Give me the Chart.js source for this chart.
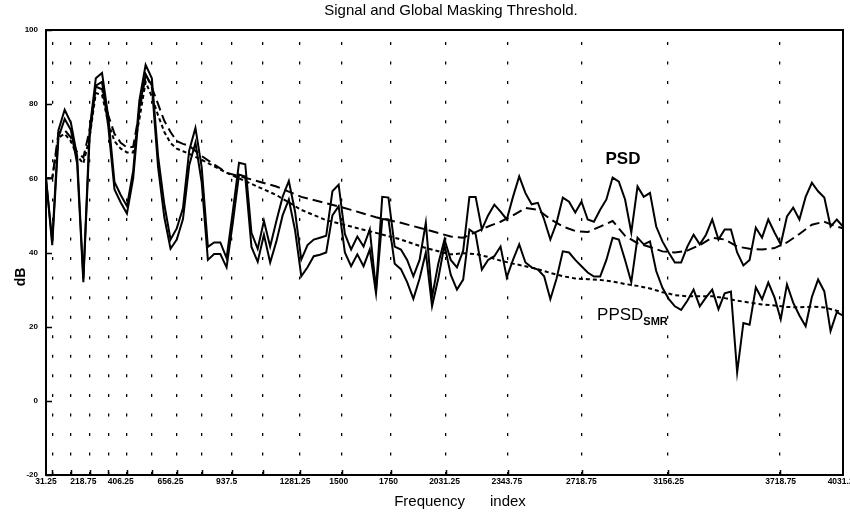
<!DOCTYPE html>
<html>
<head>
<meta charset="utf-8">
<script src="https://cdn.jsdelivr.net/npm/chart.js@4.4.0/dist/chart.umd.min.js"></script>
<style>
  body { margin: 0; background: #fff; }
  canvas { display: block; }
</style>
</head>
<body>
<canvas id="maskChart" width="850" height="518"></canvas>
<script>
// frequency of every spectral line (Hz)
const freqHz = [31.25, 62.5, 93.75, 125, 156.25, 187.5, 218.75, 250, 281.25, 312.5,
  343.75, 375, 406.25, 437.5, 468.75, 500, 531.25, 562.5, 593.75, 625,
  656.25, 687.5, 718.75, 750, 781.25, 812.5, 843.75, 875, 906.25, 937.5,
  968.75, 1000, 1031.25, 1062.5, 1093.75, 1125, 1156.25, 1187.5, 1218.75, 1250,
  1281.25, 1312.5, 1343.75, 1375, 1406.25, 1437.5, 1468.75, 1500, 1531.25, 1562.5,
  1593.75, 1625, 1656.25, 1687.5, 1718.75, 1750, 1781.25, 1812.5, 1843.75, 1875,
  1906.25, 1937.5, 1968.75, 2000, 2031.25, 2062.5, 2093.75, 2125, 2156.25, 2187.5,
  2218.75, 2250, 2281.25, 2312.5, 2343.75, 2375, 2406.25, 2437.5, 2468.75, 2500,
  2531.25, 2562.5, 2593.75, 2625, 2656.25, 2687.5, 2718.75, 2750, 2781.25, 2812.5,
  2843.75, 2875, 2906.25, 2937.5, 2968.75, 3000, 3031.25, 3062.5, 3093.75, 3125,
  3156.25, 3187.5, 3218.75, 3250, 3281.25, 3312.5, 3343.75, 3375, 3406.25, 3437.5,
  3468.75, 3500, 3531.25, 3562.5, 3593.75, 3625, 3656.25, 3687.5, 3718.75, 3750,
  3781.25, 3812.5, 3843.75, 3875, 3906.25, 3937.5, 3968.75, 4000, 4031.25];

// signal power spectral density (dB)
const psdDb = [60, 43, 73, 78.5, 75, 66, 33, 73, 87, 88.4,
  76.6, 59, 55.5, 52.5, 62, 81, 90.6, 87, 66, 53,
  43.5, 46.5, 52, 67.5, 73.6, 63, 41.5, 42.7, 42.7, 38.5,
  51, 64.2, 63.8, 45.3, 41, 48.5, 41.6, 48.5, 55, 59.3,
  51, 38.1, 42, 43.5, 44, 44.5, 56.5, 58.3, 45, 40.8,
  44.3, 41.6, 46.2, 30, 55, 54.8, 41.6, 40.8, 38, 33.6,
  38, 48, 28, 37, 43.5, 38, 36, 40.5, 55, 55,
  46.2, 50, 52.9, 51, 48.9, 55, 60.5, 56, 53, 53.4,
  48.9, 43.5, 48, 54.8, 53.7, 50.8, 53.7, 48.9, 48.3, 51.5,
  54.3, 60.2, 59.1, 54.3, 45.4, 57.8, 55, 56.1, 47, 43,
  40, 37.3, 37.3, 41.6, 44.8, 42.2, 44.8, 48.9, 43.5, 46.2,
  46.2, 40, 36.5, 38, 46.7, 44, 48.9, 45.4, 42.2, 49.7,
  52.1, 48.9, 55, 58.8, 56.5, 54.8, 47, 48.9, 47];

// PSD minus signal-to-mask ratio (dB)
const ppsdSmrDb = [60, 42, 71, 76, 73, 64, 32, 71, 85, 86,
  74, 57, 53.5, 50.5, 60, 79, 88, 85, 63, 49.5,
  41, 43.5, 49, 63.5, 69.6, 59, 38, 39.6, 39.6, 36,
  48, 61, 60.5, 41.5, 37.5, 44.8, 37.3, 43, 50, 54.3,
  46, 33.6, 36, 39, 39.4, 40, 50, 52.5, 40, 36.3,
  39.5, 36.3, 40.8, 29, 49, 48.9, 37, 35.5, 32, 27.5,
  33, 40, 25.5, 33, 42, 34, 30, 32.7, 46.2, 45,
  35.4, 38, 39, 41.6, 33.3, 38, 42.2, 37.3, 36, 35.4,
  33.6, 27.4, 33, 40.3, 40, 38, 36.3, 34.6, 33.5, 33.5,
  38, 44, 43.5, 38, 32, 44, 42.2, 43, 35, 30.5,
  27.5, 25.5, 24.5, 27, 30, 25.5, 27.9, 30, 24.7, 29,
  29.5, 7.7, 21, 20.5, 30.6, 27.4, 31.9, 27.9, 22, 31.4,
  26.5, 23, 20.1, 28, 32.7, 29.5, 18.8, 23.9, 23];

// masking thresholds, sampled on a coarser set of lines (Hz)
const thrFreqHz = [31.25, 62.5, 93.75, 125, 156.25, 187.5, 218.75, 250, 281.25, 312.5,
  343.75, 375, 406.25, 437.5, 468.75, 500, 531.25, 562.5, 593.75, 625,
  656.25, 687.5, 718.75, 750, 812.5, 937.5, 1062.5, 1187.5, 1312.5, 1437.5,
  1562.5, 1687.5, 1812.5, 1937.5, 2062.5, 2125, 2187.5, 2250, 2312.5, 2375,
  2437.5, 2500, 2562.5, 2625, 2687.5, 2750, 2812.5, 2875, 2937.5, 3000,
  3062.5, 3125, 3187.5, 3250, 3312.5, 3375, 3437.5, 3500, 3562.5, 3625,
  3687.5, 3750, 3812.5, 3875, 3937.5, 4000, 4031.25];

const globalThrDb = [60, 60, 72.3, 73, 71, 67, 65.6, 73, 84.7, 84,
  77, 72, 69.6, 68.3, 68.5, 78, 88, 84.5, 80, 75.5,
  72.5, 70, 69.3, 68.8, 66, 61.5, 59.7, 57.8, 55, 53.3,
  51.5, 49.5, 48, 46.2, 44.3, 44, 45.5, 47, 48.3, 50,
  52, 51.5, 49, 47, 45.8, 45.5, 47, 48.5, 44.5, 42.5,
  41.5, 40.3, 40, 40.5, 42, 44, 43.5, 41.6, 41, 40.8,
  41.2, 42.7, 45, 47.5, 48.3, 47, 46.5];

const smrThrDb = [60, 60, 71, 72, 70, 66, 64, 71, 83, 82.5,
  75, 70, 68, 67, 67, 76, 86, 82, 77, 72.5,
  69.5, 68, 67.3, 66.6, 65, 61.5, 58.5, 55.5, 51.5, 48.7,
  47, 45.3, 43.5, 41.2, 39.5, 39.8, 39.6, 38.8, 37.8, 37,
  36.3, 35.5, 34.5, 33.6, 33, 32.8, 32.6, 32.2, 31.5, 31,
  30.3, 29.3, 28.5, 28.2, 28.2, 28.2, 27.7, 27, 26.5, 26,
  25.7, 25.3, 25.2, 25.4, 25.2, 24.3, 24];

// axis decoration
const gridHz = [62.5, 156.25, 250, 343.75, 437.5, 562.5, 687.5, 812.5, 962.5, 1121,
  1306, 1517, 1763, 2039, 2350, 2721, 3153, 3715];
const tickLabelHz = [31.25, 218.75, 406.25, 656.25, 937.5, 1281.25, 1500, 1750,
  2031.25, 2343.75, 2718.75, 3156.25, 3718.75, 4031.25];
const yTickDb = [-20, 0, 20, 40, 60, 80, 100];

const FONT = '"Liberation Sans", Arial, Helvetica, sans-serif';

// line styles
const solid = { borderColor: '#000', borderWidth: 2, pointRadius: 0, tension: 0, fill: false };

// frame, inward tick marks and the text labels
const decorPlugin = {
  id: 'decor',
  afterDraw(chart) {
    const { ctx, chartArea: a, scales: { x, y } } = chart;
    ctx.save();
    ctx.strokeStyle = '#000';
    ctx.lineWidth = 2;
    ctx.strokeRect(a.left, a.top, a.right - a.left, a.bottom - a.top);

    ctx.lineWidth = 1.5;
    ctx.beginPath();
    yTickDb.forEach(v => {
      const py = Math.round(y.getPixelForValue(v)) + 0.5;
      ctx.moveTo(a.left, py);
      ctx.lineTo(a.left + 6, py);
    });
    gridHz.forEach(f => {
      const px = Math.round(x.getPixelForValue(f)) + 0.5;
      ctx.moveTo(px, a.bottom);
      ctx.lineTo(px, a.bottom - 5);
    });
    ctx.stroke();

    ctx.fillStyle = '#000';
    ctx.textAlign = 'center';
    ctx.textBaseline = 'middle';
    ctx.font = '15px ' + FONT;
    ctx.fillText('Signal and Global Masking Threshold.', 451, 11);

    ctx.fillText('Frequency      index', 460, 502);

    ctx.save();
    ctx.translate(21, 277);
    ctx.rotate(-Math.PI / 2);
    ctx.font = 'bold 14px ' + FONT;
    ctx.fillText('dB', 0, 0);
    ctx.restore();

    // curve names
    ctx.font = 'bold 17px ' + FONT;
    ctx.fillText('PSD', x.getPixelForValue(2927), y.getPixelForValue(65));

    ctx.textAlign = 'left';
    ctx.textBaseline = 'alphabetic';
    ctx.font = '17px ' + FONT;
    const px0 = x.getPixelForValue(2797);
    const py0 = y.getPixelForValue(21.8);
    ctx.fillText('PPSD', px0, py0);
    const w = ctx.measureText('PPSD').width;
    ctx.font = 'bold 11px ' + FONT;
    ctx.fillText('SMR', px0 + w, py0 + 5);
    ctx.restore();
  }
};

const ctx = document.getElementById('maskChart').getContext('2d');
const chart = new Chart(ctx, {
  type: 'line',
  data: {
    labels: freqHz,
    datasets: [
      Object.assign({ label: 'PSD', data: psdDb }, solid),
      Object.assign({ label: 'PPSD_SMR', data: ppsdSmrDb }, solid),
      Object.assign({}, solid, {
        label: 'Global masking threshold',
        data: thrFreqHz.map((f, i) => ({ x: f, y: globalThrDb[i] })),
        borderDash: [10, 5]
      }),
      Object.assign({}, solid, {
        label: 'Masking threshold (SMR)',
        data: thrFreqHz.map((f, i) => ({ x: f, y: smrThrDb[i] })),
        borderDash: [4, 3]
      })
    ]
  },
  options: {
    responsive: false,
    animation: false,
    layout: { padding: { top: 30, right: 7, left: 0, bottom: 0 }, autoPadding: false },
    plugins: {
      legend: { display: false },
      tooltip: { enabled: false },
      title: { display: false }
    },
    scales: {
      x: {
        type: 'linear',
        min: 31.25,
        max: 4031.25,
        afterBuildTicks: scale => {
          const vals = gridHz.concat(tickLabelHz).sort((p, q) => p - q);
          scale.ticks = vals.map(v => ({ value: v }));
        },
        afterFit: scale => {
          scale.height = 43;
          scale.paddingLeft = 0;
          scale.paddingRight = 0;
        },
        grid: {
          color: c => (c.tick && gridHz.includes(c.tick.value)) ? '#000' : 'rgba(0,0,0,0)',
          lineWidth: 1.3,
          drawTicks: false
        },
        border: { display: false, dash: [3, 16.55], dashOffset: 7.55 },
        ticks: {
          autoSkip: false,
          maxRotation: 0,
          minRotation: 0,
          padding: 2,
          color: '#000',
          font: { family: FONT, size: 8.5, weight: 'bold' },
          callback: v => tickLabelHz.includes(v) ? String(v) : ''
        }
      },
      y: {
        min: -20,
        max: 100,
        afterBuildTicks: scale => { scale.ticks = yTickDb.map(v => ({ value: v })); },
        afterFit: scale => {
          scale.width = 46;
          scale.paddingTop = 0;
          scale.paddingBottom = 0;
        },
        grid: { display: false, drawTicks: false },
        border: { display: false },
        ticks: {
          padding: 8,
          color: '#000',
          font: { family: FONT, size: 8, weight: 'bold' }
        }
      }
    }
  },
  plugins: [decorPlugin]
});
</script>
</body>
</html>
